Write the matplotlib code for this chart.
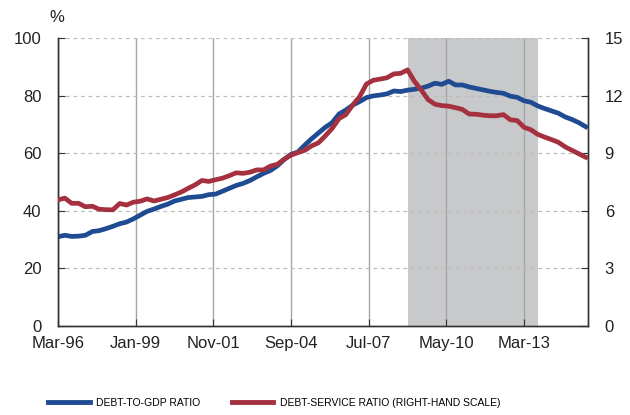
import matplotlib
matplotlib.use('Agg')
import matplotlib.pyplot as plt
import numpy as np

# quarterly data, Mar-96 .. Jun-15
debt_to_gdp = [
    31.0, 31.5, 31.1, 31.2, 31.5, 32.8, 33.1, 33.8, 34.6, 35.5,
    36.1, 37.2, 38.5, 39.8, 40.6, 41.5, 42.3, 43.4, 44.0, 44.6,
    44.8, 45.0, 45.6, 45.8, 46.8, 47.8, 48.8, 49.5, 50.5, 51.8,
    53.0, 54.0, 55.6, 57.8, 59.6, 60.4, 62.8, 65.0, 67.0, 69.0,
    70.6, 73.6, 75.0, 76.7, 77.9, 79.3, 79.9, 80.2, 80.6, 81.6,
    81.4, 81.9, 82.2, 82.6, 83.3, 84.3, 83.9, 85.0, 83.7, 83.7,
    83.0, 82.5, 82.0, 81.5, 81.1, 80.8, 79.8, 79.4, 78.2, 77.7,
    76.4, 75.5, 74.7, 73.9, 72.6, 71.7, 70.6, 69.2,
]
debt_service = [
    6.57, 6.66, 6.39, 6.39, 6.21, 6.24, 6.08, 6.06, 6.05, 6.38,
    6.30, 6.45, 6.50, 6.62, 6.51, 6.60, 6.69, 6.83, 6.98, 7.17,
    7.35, 7.58, 7.53, 7.62, 7.70, 7.83, 7.98, 7.95, 8.01, 8.13,
    8.13, 8.33, 8.42, 8.69, 8.90, 9.03, 9.15, 9.38, 9.54, 9.90,
    10.29, 10.80, 11.01, 11.51, 11.94, 12.60, 12.80, 12.86, 12.93, 13.13,
    13.16, 13.34, 12.75, 12.29, 11.79, 11.55, 11.48, 11.45, 11.37, 11.28,
    11.04, 11.03, 10.98, 10.95, 10.95, 11.01, 10.74, 10.70, 10.35, 10.22,
    9.98, 9.84, 9.71, 9.57, 9.33, 9.15, 8.97, 8.79,
]
tick_labels = ['Mar-96', 'Jan-99', 'Nov-01', 'Sep-04', 'Jul-07', 'May-10', 'Mar-13']
tick_months = [0, 34, 68, 102, 136, 170, 204]   # months after Mar-96
shade_start, shade_end = 153, 210               # Dec-08 .. Sep-13

months = np.arange(len(debt_to_gdp)) * 3

BLUE = '#1f4b93'
RED = '#a5303f'
plt.rcParams['font.family'] = ['Liberation Sans', 'DejaVu Sans']

fig = plt.figure(figsize=(6.3, 4.15), dpi=100)
ax = fig.add_axes([58/630, 1-326/415, 530/630, 288/415])
ax2 = ax.twinx()

ax.axvspan(shade_start, shade_end, color='#c8c9cb', lw=0, zorder=0)
for m in tick_months:
    ax.axvline(m, color='#a6a6a6', lw=1, zorder=1)
for v in [20, 40, 60, 80, 100]:
    ax.axhline(v, color='#bcbcbc', lw=0.9, ls=(0, (3, 3)), zorder=1)

ax.plot(months, debt_to_gdp, color=BLUE, lw=3.4, zorder=3, solid_joinstyle='round')
ax2.plot(months, debt_service, color=RED, lw=3.4, zorder=3, solid_joinstyle='round')

ax.set_xlim(0, 232)
ax.set_ylim(0, 100)
ax2.set_ylim(0, 15)
ax.set_yticks([0, 20, 40, 60, 80, 100])
ax2.set_yticks([0, 3, 6, 9, 12, 15])
ax.set_xticks(tick_months)
ax.set_xticklabels(tick_labels)

for a in (ax, ax2):
    a.spines['top'].set_visible(False)
    for s in a.spines.values():
        s.set_color('#333333')
        s.set_linewidth(1)
ax.tick_params(axis='y', direction='in', length=5, pad=12, labelsize=12, color='#333333', labelcolor='#222222')
ax.tick_params(axis='x', direction='in', length=5, pad=7, labelsize=12, color='#333333', labelcolor='#222222')
ax2.tick_params(axis='y', direction='in', length=5, pad=12, labelsize=12, color='#333333', labelcolor='#222222')

fig.text(57/630, 1-18/415, '%', fontsize=12, color='#222222', ha='center', va='center')

h1, = ax.plot([], [], color=BLUE, lw=3.5)
h2, = ax.plot([], [], color=RED, lw=3.5)
fig.legend([h1, h2], ['DEBT-TO-GDP RATIO', 'DEBT-SERVICE RATIO (RIGHT-HAND SCALE)'],
           loc='center left', bbox_to_anchor=(39/630, 1-403/415), ncol=2, frameon=False,
           handlelength=4.0, handletextpad=0.6, columnspacing=3.0,
           prop={'size': 7.5})

fig.savefig('out.png', dpi=100)
